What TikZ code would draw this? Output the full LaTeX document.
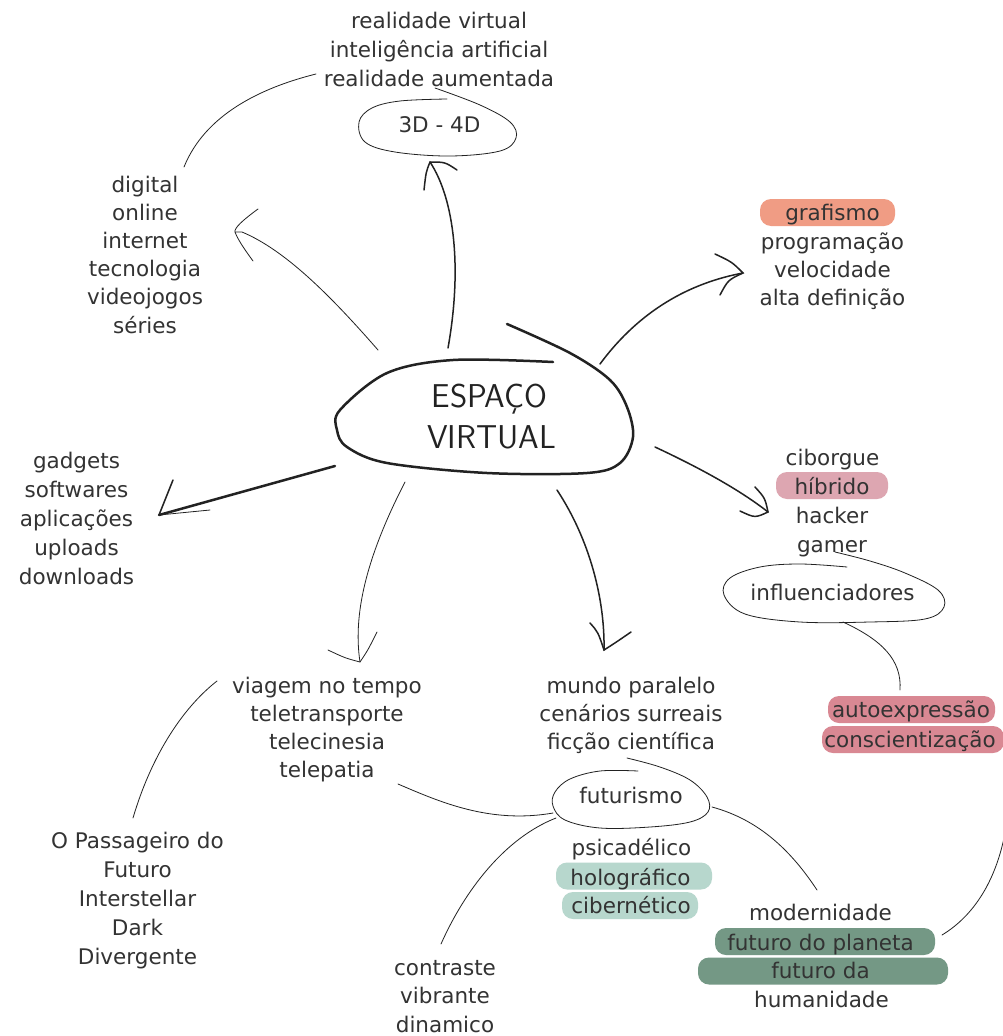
\documentclass[tikz,border=0pt]{standalone}
\usepackage{fontspec}
\setmainfont{DejaVu Sans}
\usetikzlibrary{arrows.meta}
\definecolor{txt}{HTML}{333333}
\definecolor{ink}{HTML}{222222}
\definecolor{salmon}{HTML}{F09C84}
\definecolor{pinkA}{HTML}{DDA6B1}
\definecolor{roseB}{HTML}{D98893}
\definecolor{tealL}{HTML}{B7D7CD}
\definecolor{greenD}{HTML}{749885}
\begin{document}
\begin{tikzpicture}[x=1pt,y=-1pt,
  lbl/.style={font=\fontsize{21.5}{28.8}\selectfont, text=txt, inner sep=0pt, text height=15pt, text depth=5pt},
  hlbg/.style={fill=#1, rounded corners=11pt, inner sep=0pt, minimum height=27pt},
  ttl/.style={font=\sffamily\fontsize{33}{40}\selectfont, text=ink, inner sep=0pt, anchor=base},
  wline/.style={draw=ink, line width=0.8pt, line cap=round},
  mline/.style={draw=ink, line width=1.5pt, line cap=round},
  bline/.style={draw=ink, line width=2.5pt, line cap=round, line join=round},
]
\fill[white] (0,0) rectangle (1002,1036);
\useasboundingbox (0,0) rectangle (1002,1036);

% highlight backgrounds
\node[hlbg=salmon, minimum width=135pt] (bgGraf) at (827.5,212.5) {};
\node[hlbg=pinkA, minimum width=112pt] (bgHib) at (832,485.5) {};
\node[hlbg=roseB, minimum width=167pt] (bgAuto) at (911.5,709.5) {};
\node[hlbg=roseB, minimum width=182pt] (bgCons) at (913,739.5) {};
\node[hlbg=tealL, minimum width=156pt] (bgHolo) at (634,876) {};
\node[hlbg=tealL, minimum width=136pt] (bgCib) at (630,905.5) {};
\node[hlbg=greenD, minimum width=220pt] (bgPlan) at (825,941.5) {};
\node[hlbg=greenD, minimum width=250pt] (bgHum) at (823,971) {};

% top block
\node[lbl] (rv) at (439,23) {realidade virtual};
\node[lbl] (ia) at (439,52) {inteligência artificial};
\node[lbl] (ra) at (439,81) {realidade aumentada};
\node[lbl] (d34) at (439.5,127) {3D - 4D};

% digital block
\node[lbl] (dg1) at (145,187) {digital};
\node[lbl] (dg2) at (145,215.2) {online};
\node[lbl] (dg3) at (145,243.4) {internet};
\node[lbl] (dg4) at (145,271.6) {tecnologia};
\node[lbl] (dg5) at (145,299.8) {videojogos};
\node[lbl] (dg6) at (145,328) {séries};

% grafismo block
\node[lbl] (gr1) at (832.5,215) {grafismo};
\node[lbl] (gr2) at (832.5,244) {programação};
\node[lbl] (gr3) at (832.5,272) {velocidade};
\node[lbl] (gr4) at (832.5,300) {alta definição};

% gadgets block
\node[lbl] (ga1) at (76.5,463) {gadgets};
\node[lbl] (ga2) at (76.5,492) {softwares};
\node[lbl] (ga3) at (76.5,521) {aplicações};
\node[lbl] (ga4) at (76.5,550) {uploads};
\node[lbl] (ga5) at (76.5,579) {downloads};

% ciborgue block
\node[lbl] (ci1) at (832.5,460) {ciborgue};
\node[lbl] (ci2) at (832,489) {híbrido};
\node[lbl] (ci3) at (832,518) {hacker};
\node[lbl] (ci4) at (832,547) {gamer};
\node[lbl] (inf) at (832.5,595) {influenciadores};
\node[lbl] (au1) at (911,712) {autoexpressão};
\node[lbl] (au2) at (910,742) {conscientização};

% viagem block
\node[lbl] (vi1) at (327,688) {viagem no tempo};
\node[lbl] (vi2) at (327,716) {teletransporte};
\node[lbl] (vi3) at (327,744) {telecinesia};
\node[lbl] (vi4) at (327,772) {telepatia};

% mundo block
\node[lbl] (mu1) at (631,688) {mundo paralelo};
\node[lbl] (mu2) at (631,716) {cenários surreais};
\node[lbl] (mu3) at (631,744) {ficção científica};

% futurismo
\node[lbl] (fut) at (631,798) {futurismo};
\node[lbl] (ps1) at (631.5,850) {psicadélico};
\node[lbl] (ps2) at (630.5,880) {holográfico};
\node[lbl] (ps3) at (631,908) {cibernético};

% modernidade block
\node[lbl] (mo1) at (820.5,915) {modernidade};
\node[lbl] (mo2) at (820.5,945) {futuro do planeta};
\node[lbl] (mo3) at (820.5,973) {futuro da};
\node[lbl] (mo4) at (821.5,1002) {humanidade};

% films block
\node[lbl] (fi1) at (137.5,843) {O Passageiro do};
\node[lbl] (fi2) at (137.5,872) {Futuro};
\node[lbl] (fi3) at (137.5,901) {Interstellar};
\node[lbl] (fi4) at (137.5,930) {Dark};
\node[lbl] (fi5) at (137.5,959) {Divergente};

% contraste block
\node[lbl] (co1) at (445,970) {contraste};
\node[lbl] (co2) at (445,998) {vibrante};
\node[lbl] (co3) at (445,1027) {dinamico};

% title
\node[ttl] (t1) at (489.5,407) {ESPAÇO};
\node[ttl] (t2) at (491.5,448) {VIRTUAL};

% central blob
\draw[bline] plot[smooth, tension=0.55] coordinates {(507,324) (570,353) (610,380) (627,407) (633,437) (620,463) (587,473) (487,473) (387,463) (347,447) (337,430) (340,410) (387,373) (453,360) (553,362)};

% loops
\draw[wline] plot[smooth, tension=0.6] coordinates {(447,99) (400,101) (372,108) (359,122) (365,142) (395,152) (450,156) (500,151) (516,138) (510,122) (480,105) (435,88)};
\draw[wline] plot[smooth, tension=0.6] coordinates {(847,567) (800,564) (760,567) (730,578) (724,595) (745,614) (800,622) (870,622) (925,619) (944,607) (938,590) (905,573) (870,561) (835,552)};
\draw[wline] plot[smooth, tension=0.6] coordinates {(638,771) (600,771) (570,779) (555,792) (553,806) (565,820) (600,828) (650,827) (690,822) (708,812) (707,797) (690,780) (660,767) (627,758)};

% coordinates
\coordinate (sTop) at (448,348);
\coordinate (tTop) at (430,162);
\coordinate (sDig) at (378,350);
\coordinate (tDig) at (235,232);
\coordinate (sGad) at (335,466);
\coordinate (tGad) at (159,515);
\coordinate (sVia) at (405,482);
\coordinate (tVia) at (360,662);
\coordinate (sMun) at (557,490);
\coordinate (tMun) at (604,650);
\coordinate (sCib) at (655,447);
\coordinate (tCib) at (768,512);
\coordinate (sGra) at (600,364);
\coordinate (tGra) at (743,273);
\coordinate (pDig) at (184,167);
\coordinate (pRa) at (316,74);
\coordinate (pVia) at (217,681);
\coordinate (pFil) at (133,818);
\coordinate (pTel) at (398,784);
\coordinate (pFutL) at (553,813);
\coordinate (pFutL2) at (556,818);
\coordinate (pCon) at (441,944);
\coordinate (pFutR) at (712,807);
\coordinate (pMod) at (817,890);
\coordinate (pInf) at (843,622);
\coordinate (pAut) at (900,690);
\coordinate (pPla) at (942,935);
\coordinate (pEdge) at (1004,838);

% arrows from centre
\draw[mline] (sTop) .. controls (462,270) and (455,200) .. (tTop);
\draw[mline] (tTop) .. controls (426,172) .. (424,190);
\draw[mline] (tTop) .. controls (445,162) .. (457,170);

\draw[wline] (sDig) .. controls (330,295) and (285,250) .. (242,232) -- (tDig);
\draw[wline] (258,209) .. controls (243,220) and (234,228) .. (tDig) .. controls (238,240) and (245,250) .. (253,261);

\draw[bline] (sGad) -- (tGad);
\draw[mline] (173,480) -- (tGad);
\draw[wline] (tGad) -- (210,510);

\draw[wline] (sVia) .. controls (370,550) and (352,610) .. (tVia);
\draw[wline] (328,650) .. controls (345,658) .. (tVia) .. controls (368,650) .. (377,632);

\draw[mline] (sMun) .. controls (590,540) and (605,600) .. (tMun);
\draw[mline] (590,623) .. controls (598,632) .. (tMun) .. controls (615,643) .. (631,632);

\draw[mline] (sCib) .. controls (700,468) and (740,490) .. (tCib);
\draw[mline] (755,487) .. controls (765,498) .. (tCib) .. controls (755,518) .. (740,511);

\draw[mline] (sGra) .. controls (640,310) and (690,283) .. (tGra);
\draw[mline] (715,254) .. controls (732,262) .. (tGra) .. controls (728,280) .. (720,295);

% thin connectors
\draw[wline] (pDig) .. controls (205,115) and (260,88) .. (pRa);
\draw[wline] (pVia) .. controls (180,710) and (150,760) .. (pFil);
\draw[wline] (pTel) .. controls (440,802) and (490,824) .. (pFutL);
\draw[wline] (pFutL2) .. controls (505,838) and (465,890) .. (pCon);
\draw[wline] (pFutR) .. controls (760,820) and (792,852) .. (pMod);
\draw[wline] (pInf) .. controls (882,640) and (902,660) .. (pAut);
\draw[wline] (pPla) .. controls (975,915) and (995,880) .. (pEdge);
\end{tikzpicture}
\end{document}
